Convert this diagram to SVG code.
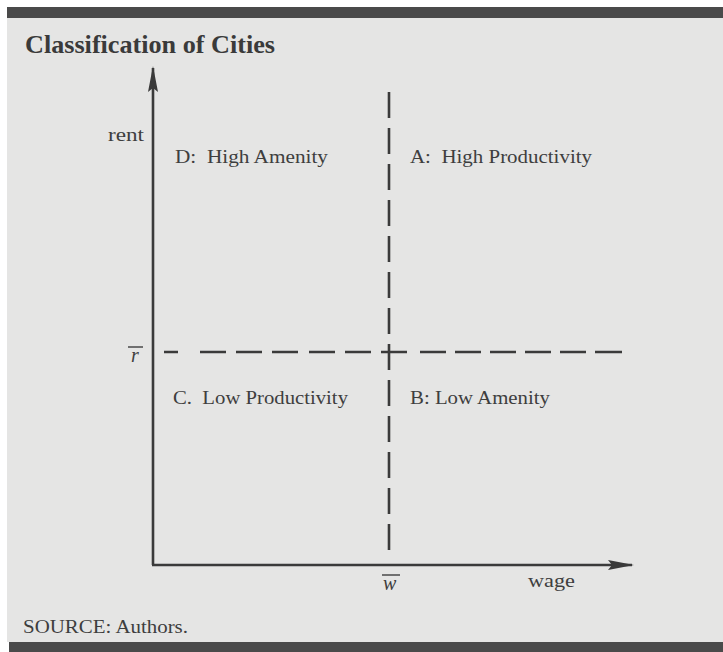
<svg xmlns="http://www.w3.org/2000/svg" width="723" height="652" viewBox="0 0 723 652">
  <style>
    .bar { fill: #4a4a4a; }
    .panel { fill: #e5e5e4; }
    .axis { stroke: #3a3a3a; stroke-width: 2.6; fill: none; }
    .dash { stroke: #3a3a3a; stroke-width: 2.6; fill: none; }
    .lbl { font-family: "Liberation Serif", "DejaVu Serif", serif; font-size: 19px; fill: #3e3e3e; white-space: pre; }
    .title { font-family: "Liberation Serif", "DejaVu Serif", serif; font-size: 25px; font-weight: bold; fill: #3a3a3a; }
    .sym { font-family: "Liberation Serif", "DejaVu Serif", serif; font-size: 20px; font-style: italic; fill: #3e3e3e; }
  </style>
  <defs>
    <marker id="head" viewBox="0 0 26 12" refX="24" refY="6" markerWidth="26" markerHeight="12" markerUnits="userSpaceOnUse" orient="auto">
      <path d="M0,1 L26,6 L0,11 L4,6 Z" fill="#3a3a3a"/>
    </marker>
  </defs>

  <rect width="723" height="652" fill="#ffffff"/>
  <rect class="panel" x="7" y="18" width="716" height="624"/>
  <rect class="bar" x="7" y="7" width="716" height="11"/>
  <rect class="bar" x="9" y="642" width="714" height="10"/>

  <text class="title" x="25" y="53" textLength="250" lengthAdjust="spacingAndGlyphs">Classification of Cities</text>

  <g id="connectors">
    <!-- axes -->
    <line class="axis" x1="153" y1="565" x2="153" y2="68" marker-end="url(#head)"/>
    <line class="axis" x1="152" y1="565" x2="632" y2="565" marker-end="url(#head)"/>
    <!-- wage threshold (vertical dashed) -->
    <line class="dash" x1="389" y1="92" x2="389" y2="556" stroke-dasharray="26 10"/>
    <!-- rent threshold (horizontal dashed) -->
    <path class="dash" d="M164,352 H178 M200,352 H226 M236,352 H262 M272,352 H298 M309,352 H335 M345,352 H371 M381,352 H407 M420,352 H446 M455,352 H481 M490,352 H516 M525,352 H551 M560,352 H586 M595,352 H622"/>
  </g>

  <g id="axis-labels">
    <text class="lbl" x="108" y="141" textLength="36" lengthAdjust="spacingAndGlyphs">rent</text>
    <text class="lbl" x="528" y="587" textLength="47" lengthAdjust="spacingAndGlyphs">wage</text>
    <text class="sym" x="131" y="362">r</text>
    <line x1="128" y1="347" x2="143" y2="347" stroke="#3e3e3e" stroke-width="1.4"/>
    <text class="sym" x="383" y="590">w</text>
    <line x1="382" y1="575" x2="400" y2="575" stroke="#3e3e3e" stroke-width="1.4"/>
  </g>

  <g id="quadrant-d"><text class="lbl" x="175" y="163" textLength="153" lengthAdjust="spacingAndGlyphs" xml:space="preserve">D:  High Amenity</text></g>
  <g id="quadrant-a"><text class="lbl" x="410" y="163" textLength="182" lengthAdjust="spacingAndGlyphs" xml:space="preserve">A:  High Productivity</text></g>
  <g id="quadrant-c"><text class="lbl" x="173" y="404" textLength="175" lengthAdjust="spacingAndGlyphs" xml:space="preserve">C.  Low Productivity</text></g>
  <g id="quadrant-b"><text class="lbl" x="410" y="404" textLength="140" lengthAdjust="spacingAndGlyphs">B: Low Amenity</text></g>

  <text class="lbl" x="23" y="633" textLength="165" lengthAdjust="spacingAndGlyphs">SOURCE: Authors.</text>
</svg>
